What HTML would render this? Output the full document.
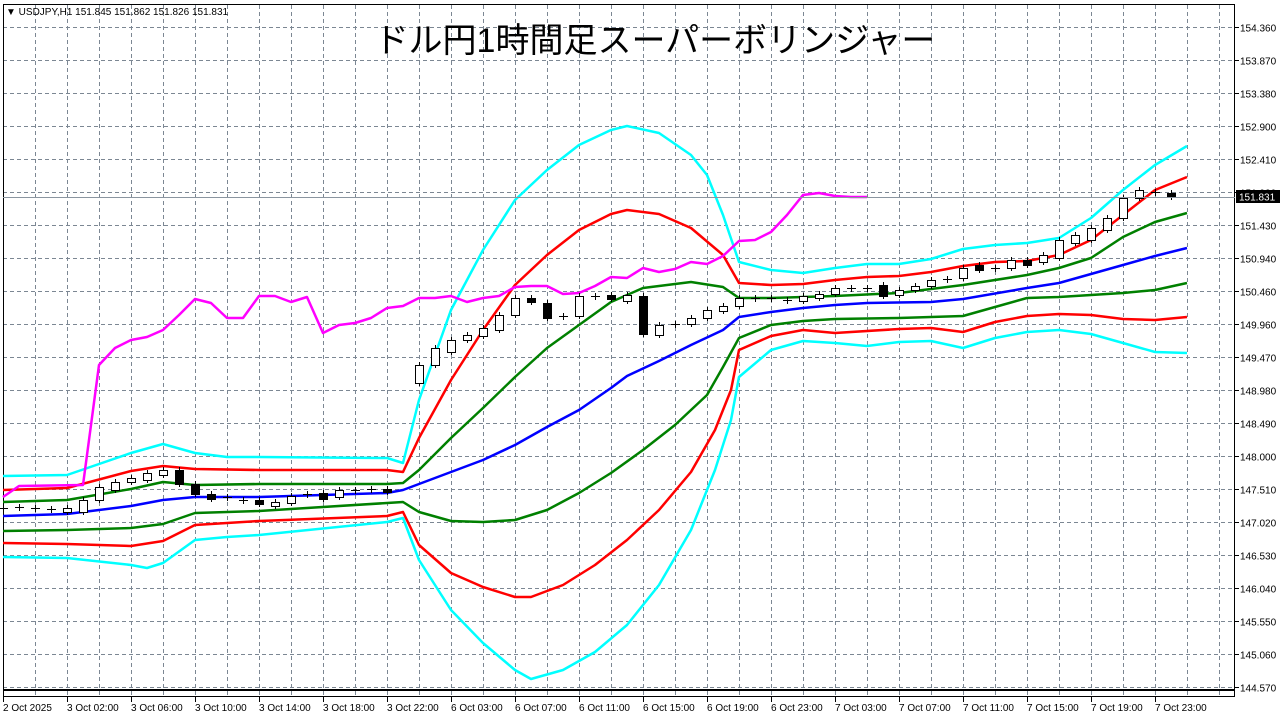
<!DOCTYPE html>
<html><head><meta charset="utf-8"><style>
body{margin:0;background:#fff;}
svg{display:block;font-family:"Liberation Sans",sans-serif;}
</style></head><body>
<svg width="1281" height="718" viewBox="0 0 1281 718" xmlns="http://www.w3.org/2000/svg">
<rect width="1281" height="718" fill="#fff"/>
<g id="grid" stroke="#7c8793" stroke-width="1" stroke-dasharray="4,3" fill="none"></g>
<rect x="3.5" y="4.5" width="1231" height="685" fill="none" stroke="#000"/>
<rect x="3.5" y="690.5" width="1231" height="6" fill="none" stroke="#000"/>
<text x="6" y="15" font-size="10" fill="#000">▼ USDJPY,H1  151.845 151.862 151.826 151.831</text>
<text x="655" y="52" font-size="34" text-anchor="middle" font-family="'Liberation Sans','Noto Sans CJK JP',sans-serif" fill="#000">ドル円1時間足スーパーボリンジャー</text>
<g id="lines" fill="none" stroke-width="2.5" stroke-linejoin="round"></g>
<g id="candles"></g>
<line x1="3" y1="197.5" x2="1235" y2="197.5" stroke="#8a95a0"/>
<g id="ylab" font-size="10" fill="#000"></g>
<rect x="1236" y="190" width="44" height="13" fill="#000"/>
<text x="1239" y="200.5" font-size="10" fill="#fff">151.831</text>
<g id="xlab" font-size="10" fill="#000"></g>
</svg>
<script>
const NS="http://www.w3.org/2000/svg";
function el(t,a,p,txt){const e=document.createElementNS(NS,t);for(const k in a)e.setAttribute(k,a[k]);if(txt)e.textContent=txt;document.getElementById(p).appendChild(e);return e;}
const prices=["154.360","153.870","153.380","152.900","152.410","151.920","151.430","150.940","150.460","149.960","149.470","148.980","148.490","148.000","147.510","147.020","146.530","146.040","145.550","145.060","144.570"];
prices.forEach((p,i)=>{const y=Math.round(27+i*33)+0.5;el("line",{x1:3,y1:y,x2:1235,y2:y},"grid");el("line",{x1:1235,y1:y,x2:1239,y2:y,stroke:"#000"},"ylab");el("text",{x:1240,y:y+4},"ylab",p);});
for(let x=35;x<1235;x+=32){el("line",{x1:x+.5,y1:5,x2:x+.5,y2:697},"grid");}
const xl=["2 Oct 2025","3 Oct 02:00","3 Oct 06:00","3 Oct 10:00","3 Oct 14:00","3 Oct 18:00","3 Oct 22:00","6 Oct 03:00","6 Oct 07:00","6 Oct 11:00","6 Oct 15:00","6 Oct 19:00","6 Oct 23:00","7 Oct 03:00","7 Oct 07:00","7 Oct 11:00","7 Oct 15:00","7 Oct 19:00","7 Oct 23:00"];
xl.forEach((t,i)=>{const x=3+i*64;el("line",{x1:x+.5,y1:697,x2:x+.5,y2:702,stroke:"#000"},"xlab");el("text",{x:x,y:711},"xlab",t);});
const S=[
["#00ffff","3,476 67,475 131,453 163,444 195,453 227,457 259,457 387,458 403,463 419,400 451,310 483,250 515,200 547,170 579,145 611,130 627,126 659,133 691,155 707,175 723,215 739,262 771,270 803,273 835,268 867,264 899,264 931,259 963,249 995,245 1027,243 1059,238 1091,218 1123,190 1155,165 1187,146"],
["#ff0000","3,490 67,488 131,471 163,466 195,469 259,470 387,470 403,472 419,438 451,380 483,330 515,285 547,255 579,230 611,214 627,210 659,214 691,228 723,255 739,283 771,285 803,284 835,280 867,277 899,276 931,272 963,266 995,262 1027,261 1059,255 1091,240 1123,215 1155,190 1187,177"],
["#008000","3,502 67,500 131,489 163,482 195,485 259,484 387,484 403,483 419,470 451,438 483,408 515,377 547,348 579,325 611,302 643,288 691,282 723,287 739,298 771,298 835,296 899,293 963,285 1027,275 1059,268 1091,258 1123,237 1155,222 1187,213"],
["#0000ff","3,516 67,514 131,506 163,500 195,497 259,497 387,493 403,490 451,472 483,460 515,445 547,427 579,410 611,388 627,376 659,361 691,345 723,330 739,317 771,312 803,308 835,305 867,303 931,302 963,299 1027,288 1059,283 1091,274 1123,265 1155,256 1187,248"],
["#008000","3,531 67,530 131,528 163,524 195,513 259,511 387,503 403,502 419,512 451,521 483,522 515,520 547,510 579,493 611,473 643,450 675,425 707,395 723,367 739,338 771,325 803,321 835,319 899,318 963,316 995,307 1027,298 1059,297 1091,295 1123,293 1155,290 1187,283"],
["#ff0000","3,543 67,544 131,546 163,541 195,525 259,521 387,516 403,512 419,545 451,573 483,587 515,597 531,597 563,585 595,565 627,540 659,510 691,472 715,430 731,390 739,350 771,336 803,330 835,333 899,329 931,328 963,332 995,322 1027,316 1059,314 1091,315 1123,319 1155,320 1187,317"],
["#00ffff","3,557 67,558 131,565 147,568 163,563 195,540 227,537 259,535 387,522 403,518 419,560 451,610 483,643 515,670 531,679 563,670 595,652 627,625 659,585 691,530 715,470 731,420 739,377 771,350 803,341 835,343 867,346 899,342 931,341 963,348 995,338 1027,332 1059,330 1091,334 1123,343 1155,352 1187,353"],
["#ff00ff","3,497 19,486 83,485 99,365 115,348 131,340 147,337 163,330 179,315 195,299 211,303 227,318 243,318 259,296 275,296 291,302 307,297 323,333 339,325 355,323 371,318 387,308 403,306 419,298 435,298 451,296 467,302 483,298 499,296 515,287 531,286 547,286 563,294 579,293 595,286 611,277 627,278 643,268 659,272 675,269 691,262 707,264 723,256 739,241 755,240 771,232 787,215 803,195 819,193 835,196 851,197 867,197"]];
S.forEach(s=>el("polyline",{points:s[1],stroke:s[0]},"lines"));
const C=[[3,"d",508],[19,"d",507],[35,"d",508],[51,"d",509],[67,"w",508,512],[83,"w",500,512],[99,"w",487,500],[115,"w",482,490],[131,"w",478,482],[147,"w",473,480],[163,"w",470,475],[179,"b",470,484],[195,"b",484,494],[211,"b",494,499],[227,"d",497],[243,"d",500],[259,"b",500,504],[275,"w",502,506],[291,"w",496,503],[307,"d",494],[323,"b",493,499],[339,"w",490,497],[355,"d",490],[371,"d",489],[387,"b",489,492],
[419,"w",365,383],[435,"w",348,365],[451,"w",340,352],[467,"w",335,340],[483,"w",328,336],[499,"w",315,330],[515,"w",298,315],[531,"b",298,302],[547,"b",303,318],[563,"d",316],[579,"w",296,316],[595,"d",296],[611,"b",295,299],[627,"w",295,301],[643,"b",296,334],[659,"w",325,335],[675,"d",324],[691,"w",318,324],[707,"w",310,318],[723,"w",306,311],[739,"w",298,306],[755,"d",298],[771,"d",298],[787,"d",300],[803,"w",296,301],[819,"w",294,298],[835,"w",288,294],[851,"d",288],[867,"d",288],[883,"b",285,296],[899,"w",290,295],[915,"w",286,290],[931,"w",280,286],[947,"d",279],[963,"w",268,278],[979,"b",265,270],[995,"d",268],[1011,"w",260,268],[1027,"b",260,265],[1043,"w",255,262],[1059,"w",240,258],[1075,"w",235,243],[1091,"w",228,240],[1107,"w",218,230],[1123,"w",198,218],[1139,"w",190,198],[1155,"d",192],[1171,"b",193,197]];
C.forEach(c=>{const x=c[0];if(c[1]==="d"){el("line",{x1:x-4,y1:c[2]+.5,x2:x+5,y2:c[2]+.5,stroke:"#000"},"candles");el("line",{x1:x+.5,y1:c[2]-3,x2:x+.5,y2:c[2]+4,stroke:"#000"},"candles");return;}
const t=c[2],b=c[3];el("line",{x1:x+.5,y1:t-3,x2:x+.5,y2:b+3,stroke:"#000"},"candles");el("rect",{x:x-3.5,y:t+.5,width:8,height:Math.max(1,b-t),fill:c[1]==="w"?"#fff":"#000",stroke:"#000"},"candles");});
</script>
</body></html>
